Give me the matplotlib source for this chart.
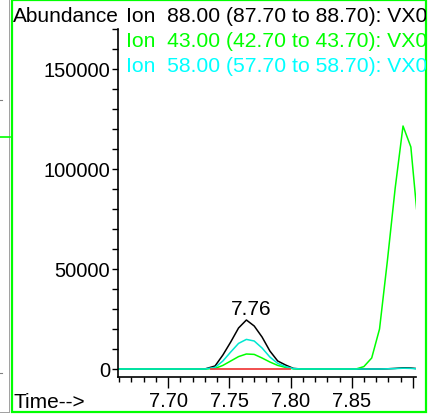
import matplotlib
matplotlib.use("Agg")
import matplotlib.pyplot as plt
from matplotlib.patches import Rectangle
from matplotlib.lines import Line2D
from matplotlib.ticker import FixedLocator, MultipleLocator, FuncFormatter
from matplotlib.transforms import Bbox

plt.rcParams['font.family'] = ['Liberation Sans', 'DejaVu Sans']

# retention time (min), one scan every ~0.0064 min
times = [7.6595, 7.6659, 7.6723, 7.6787, 7.6851, 7.6915, 7.6979, 7.7043,
         7.7107, 7.7171, 7.7235, 7.7299, 7.7383, 7.7447, 7.7511, 7.7575,
         7.7639, 7.7703, 7.7767, 7.7831, 7.7895, 7.7959, 7.8023, 7.8087,
         7.8151, 7.8215, 7.8279, 7.8343, 7.8407, 7.8471, 7.8535, 7.8599,
         7.8663, 7.8727, 7.8791, 7.8855, 7.8919, 7.8983, 7.9030]

ion_88 = [0, 0, 0, 0, 0, 0, 0, 0,
          0, 0, 0, 0, 1500, 7000, 13500, 20500,
          24500, 21500, 16000, 9000, 4000, 2000, 300, 0,
          0, 0, 0, 0, 0, 0, 0, 0,
          0, 0, 100, 300, 600, 500, 200]
ion_43 = [0, 0, 0, 0, 0, 0, 0, 0,
          0, 0, 0, 0, 300, 1800, 4000, 6200,
          7500, 7300, 5500, 3500, 1800, 800, 100, 0,
          0, 0, 0, 0, 0, 0, 0, 1200,
          5500, 20000, 54000, 90500, 121500, 111000, 80000]
ion_58 = [0, 0, 0, 0, 0, 0, 0, 0,
          0, 0, 0, 0, 800, 4000, 8500, 12800,
          14800, 14000, 10500, 6000, 2800, 1200, 200, 0,
          0, 0, 0, 0, 0, 0, 0, 0,
          0, 0, 100, 200, 400, 300, 100]

# integration baseline of the labelled peak
base_t = [7.7352, 7.7995]
base_y = [0, 0]

peak_label = "7.76"
ion_labels = ["Ion  88.00 (87.70 to 88.70): VX0",
              "Ion  43.00 (42.70 to 43.70): VX0",
              "Ion  58.00 (57.70 to 58.70): VX0"]
ion_colors = ["black", "#00ff00", "#00ffff"]

W, H = 432, 415
fig = plt.figure(figsize=(W / 100, H / 100), dpi=100)


def fx(px):
    return px / W


def fy(py):
    return (H - py) / H


ax = fig.add_axes([fx(118), fy(377), fx(416) - fx(118), fy(29) - fy(377)])
ax.plot(times, ion_88, color="black", lw=1.1)
ax.plot(times, ion_43, color="#00ff00", lw=1.1)
ax.plot(times, ion_58, color="#00e8d0", lw=1.1)
ax.plot(base_t, base_y, color="#f04040", lw=1.3)

ax.set_xlim(7.659, 7.9025)
ax.set_ylim(-4000, 170000)

for s in ["top", "right"]:
    ax.spines[s].set_visible(False)
for s in ["left", "bottom"]:
    ax.spines[s].set_linewidth(1.2)

ax.xaxis.set_major_locator(FixedLocator([7.70, 7.75, 7.80, 7.85, 7.90]))
ax.xaxis.set_major_formatter(FuncFormatter(lambda v, p: "" if v > 7.88 else f"{v:.2f}"))
ax.xaxis.set_minor_locator(MultipleLocator(0.01))
ax.yaxis.set_major_locator(MultipleLocator(50000))
ax.yaxis.set_minor_locator(MultipleLocator(10000))
ax.yaxis.set_major_formatter(FuncFormatter(lambda v, p: f"{v:.0f}"))

ax.tick_params(axis="x", which="major", direction="out", length=8, width=1,
               pad=3, labelsize=14.5)
ax.tick_params(axis="x", which="minor", direction="out", length=3.6, width=1)
ax.tick_params(axis="y", which="both", direction="out", length=4, width=1,
               pad=1.5, labelsize=14.5)

# retention time label above the apex
i_max = ion_88.index(max(ion_88))
ax.annotate(peak_label, (times[i_max], ion_88[i_max]), xytext=(5, 5),
            textcoords="offset pixels", ha="center", va="baseline", fontsize=15)

# header texts
fig.text(fx(13), fy(22), "Abundance", fontsize=15, va="baseline")
clip = Bbox.from_extents(0, 0, 426, H)
for k, (lab, col) in enumerate(zip(ion_labels, ion_colors)):
    t = fig.text(fx(126), fy(22 + 25 * k), lab, color=col, fontsize=15.2,
                 va="baseline")
    t.set_clip_box(clip)
    t.set_clip_on(True)
fig.text(fx(13), fy(408), "Time-->", fontsize=15, va="baseline")

# panel frame and neighbour bits
fig.add_artist(Rectangle((fx(11.5), fy(412)), fx(426) - fx(11.5), fy(0.5) - fy(412),
                         transform=fig.transFigure, fill=False,
                         edgecolor="#00ff00", lw=1.6))
fig.add_artist(Line2D([fx(9), fx(9)], [fy(0), fy(412)], transform=fig.transFigure,
                      color="#a0a0a0", lw=0.7))
fig.add_artist(Line2D([fx(0), fx(9)], [fy(412), fy(412)], transform=fig.transFigure,
                      color="#a0a0a0", lw=0.7))
fig.add_artist(Line2D([fx(0), fx(10)], [fy(137), fy(137)], transform=fig.transFigure,
                      color="#00ff00", lw=1.2))
for yy in [100, 373]:
    fig.add_artist(Line2D([fx(0), fx(2)], [fy(yy), fy(yy)], transform=fig.transFigure,
                          color="#808080", lw=0.8))

fig.savefig("out.png", dpi=100, facecolor="white")
